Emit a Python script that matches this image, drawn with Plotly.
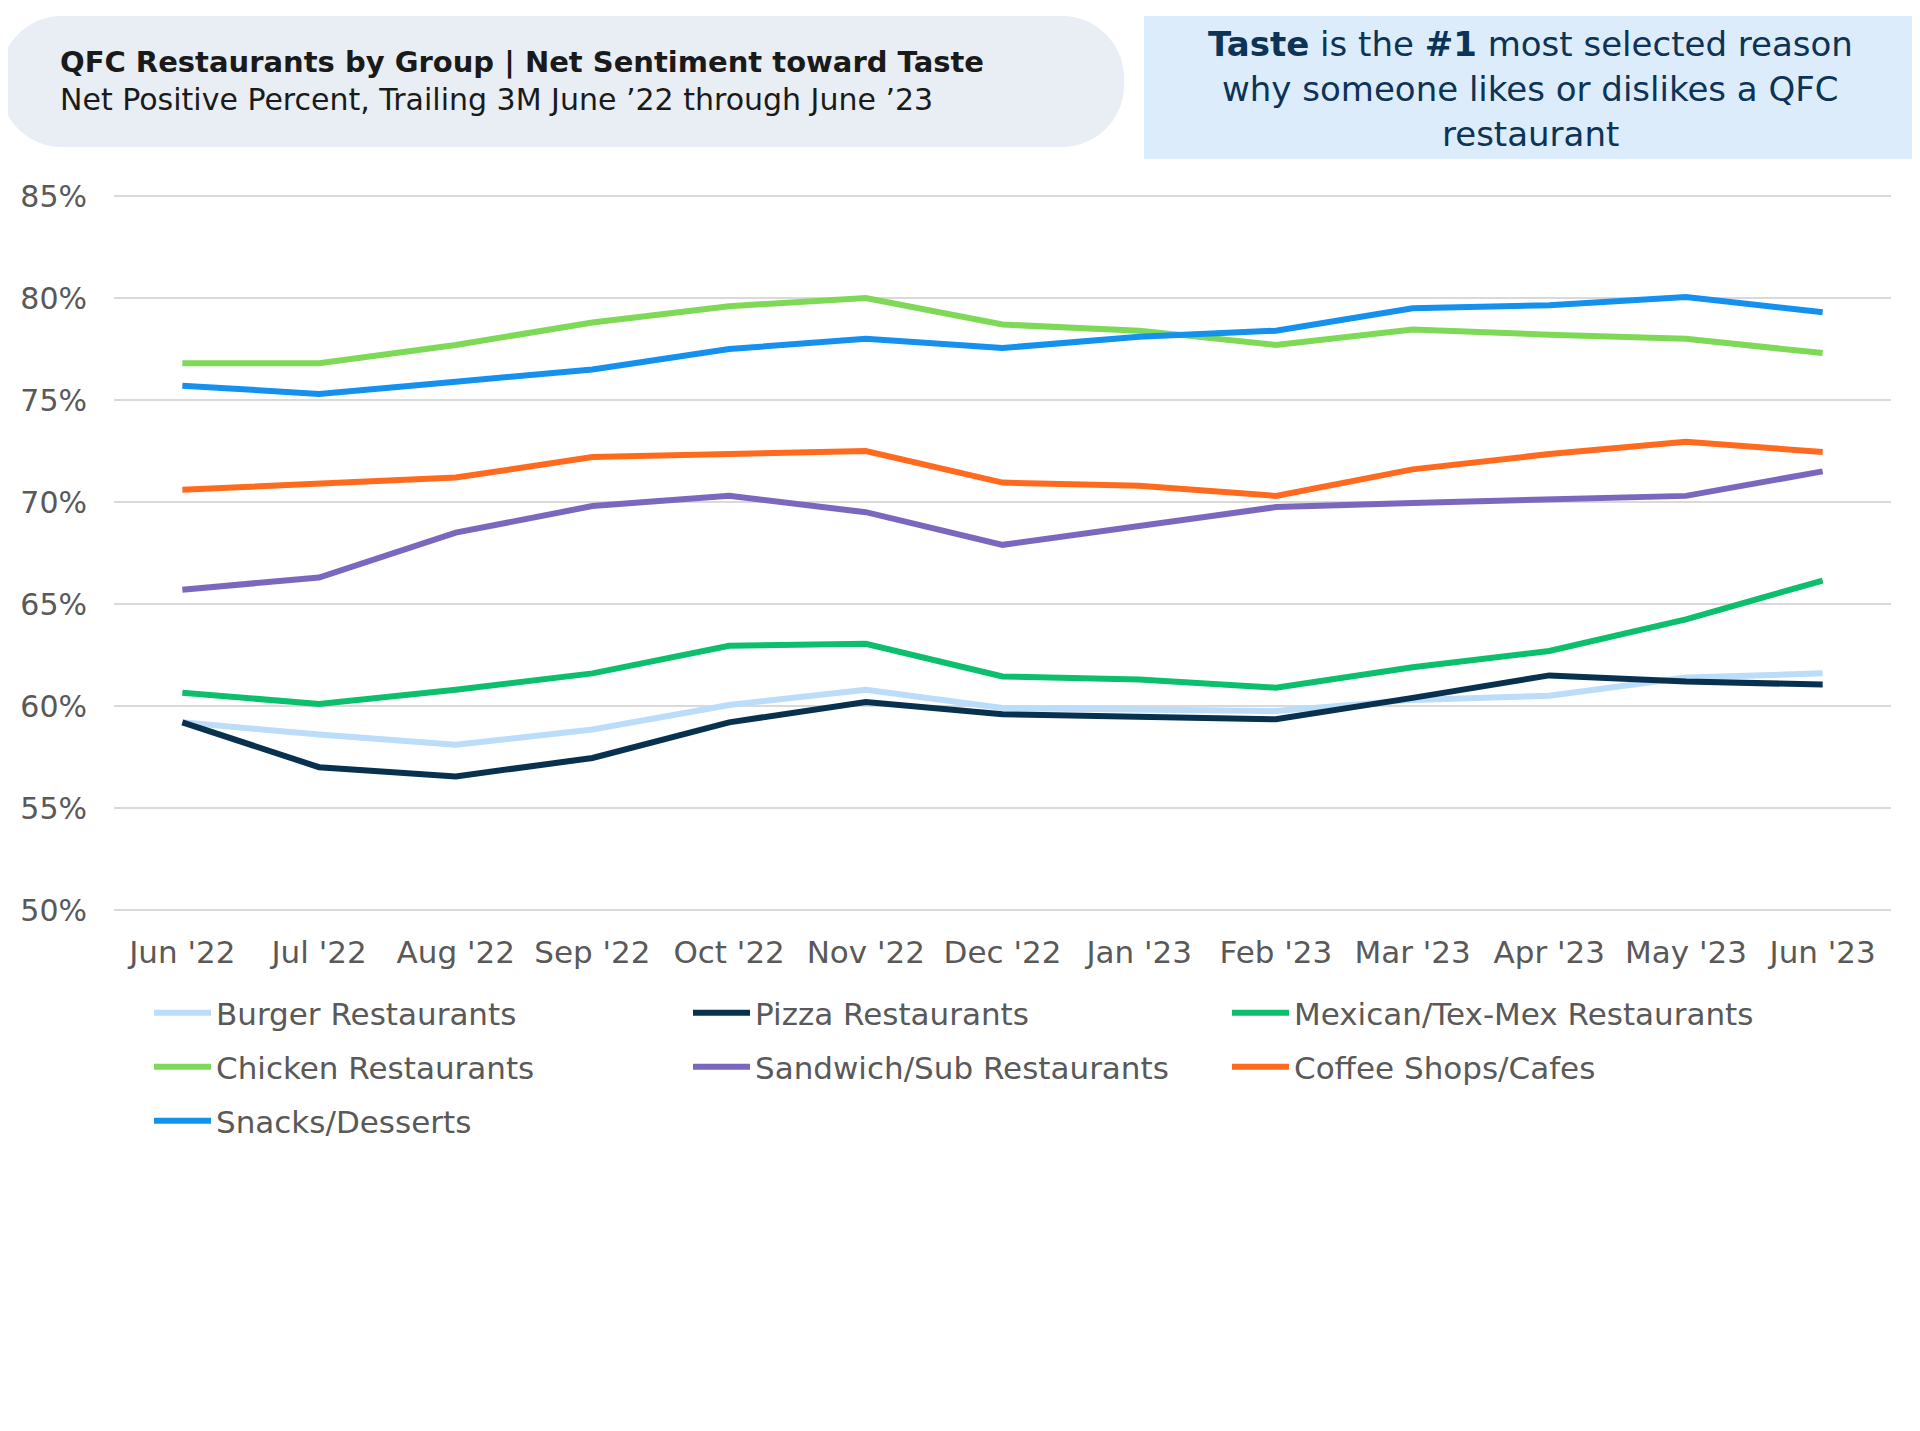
import plotly.graph_objects as go

months = ["Jun '22", "Jul '22", "Aug '22", "Sep '22", "Oct '22", "Nov '22", "Dec '22",
          "Jan '23", "Feb '23", "Mar '23", "Apr '23", "May '23", "Jun '23"]

burger = [59.2, 58.6, 58.1, 58.85, 60.05, 60.8, 59.9, 59.8, 59.75, 60.3, 60.5, 61.4, 61.6]
pizza = [59.2, 57.0, 56.55, 57.45, 59.2, 60.2, 59.6, 59.5, 59.35, 60.4, 61.5, 61.2, 61.05]
mexican = [60.65, 60.1, 60.8, 61.6, 62.95, 63.05, 61.45, 61.3, 60.9, 61.9, 62.7, 64.25, 66.15]
chicken = [76.8, 76.8, 77.7, 78.8, 79.6, 80.0, 78.7, 78.4, 77.7, 78.45, 78.2, 78.0, 77.3]
sandwich = [65.7, 66.3, 68.5, 69.8, 70.3, 69.5, 67.9, 68.8, 69.75, 69.95, 70.15, 70.3, 71.5]
coffee = [70.6, 70.9, 71.2, 72.2, 72.35, 72.5, 70.95, 70.8, 70.3, 71.6, 72.35, 72.95, 72.45]
snacks = [75.7, 75.3, 75.9, 76.5, 77.5, 78.0, 77.55, 78.1, 78.4, 79.5, 79.65, 80.05, 79.3]

series_names = ["Burger Restaurants", "Pizza Restaurants", "Mexican/Tex-Mex Restaurants",
                "Chicken Restaurants", "Sandwich/Sub Restaurants", "Coffee Shops/Cafes",
                "Snacks/Desserts"]
series_values = [burger, pizza, mexican, chicken, sandwich, coffee, snacks]
series_colors = ["#BBDDF9", "#08304F", "#0BBF6C", "#7ED957", "#7B68BE", "#FF6A1F", "#1490EF"]
series_legend = ["legend", "legend", "legend", "legend2", "legend2", "legend2", "legend3"]

y_ticks = [50, 55, 60, 65, 70, 75, 80, 85]
y_tick_text = ["50%", "55%", "60%", "65%", "70%", "75%", "80%", "85%"]

FONT = "DejaVu Sans"
# the page body has an 8px default margin, so the figure is drawn at (8, 8)
OFF = 8
W, H = 1920 - 2 * OFF, 1431 - 2 * OFF
PAD = 3  # extra pixels so the 50% / 85% gridlines are not clipped at the plot edges
ML = 114 - OFF
MT = 196 - OFF - PAD
MR = W - (1891 - OFF)
MB = H - (910 - OFF) - PAD
PW, PH = W - ML - MR, H - MT - MB
YPAD = PAD * 35.0 / 714.0


def X(px):  # reference-page pixel -> paper x
    return (px - OFF - ML) / PW


def Y(py):  # reference-page pixel -> paper y
    return (H - MB - (py - OFF)) / PH


fig = go.Figure()
for name, vals, col, lg in zip(series_names, series_values, series_colors, series_legend):
    fig.add_trace(go.Scatter(x=list(range(len(months))), y=vals, name=name, mode="lines",
                             line=dict(color=col, width=6), legend=lg))

# rounded "pill" header box
x0, y0, x1, y1, r = 0, 16, 1124, 147, 62
k = 0.5523
pts = [
    ("M", [(x0 + r, y0)]),
    ("L", [(x1 - r, y0)]),
    ("C", [(x1 - r + k * r, y0), (x1, y0 + r - k * r), (x1, y0 + r)]),
    ("L", [(x1, y1 - r)]),
    ("C", [(x1, y1 - r + k * r), (x1 - r + k * r, y1), (x1 - r, y1)]),
    ("L", [(x0 + r, y1)]),
    ("C", [(x0 + r - k * r, y1), (x0, y1 - r + k * r), (x0, y1 - r)]),
    ("L", [(x0, y0 + r)]),
    ("C", [(x0, y0 + r - k * r), (x0 + r - k * r, y0), (x0 + r, y0)]),
]
path = ""
for cmd, ps in pts:
    path += cmd + " " + " ".join(f"{X(a):.5f},{Y(b):.5f}" for a, b in ps) + " "
path += "Z"

shapes = [
    dict(type="path", xref="paper", yref="paper", path=path,
         fillcolor="#E8EEF4", line=dict(width=0), layer="below"),
    dict(type="rect", xref="paper", yref="paper", x0=X(1144), x1=X(1917), y0=Y(159), y1=Y(16),
         fillcolor="#DCECFA", line=dict(width=0), layer="below"),
]

annotations = [
    dict(text="<b>QFC Restaurants by Group | Net Sentiment toward Taste</b>", x=X(58), y=Y(62),
         xref="paper", yref="paper", xanchor="left", yanchor="middle", showarrow=False,
         font=dict(family=FONT, size=29, color="#1A1A1A")),
    dict(text="Net Positive Percent, Trailing 3M June \u201922 through June \u201923", x=X(58), y=Y(99),
         xref="paper", yref="paper", xanchor="left", yanchor="middle", showarrow=False,
         font=dict(family=FONT, size=30, color="#1A1A1A")),
]
box_lines = ["<b>Taste</b> is the <b>#1</b> most selected reason",
             "why someone likes or dislikes a QFC",
             "restaurant"]
for txt, cy in zip(box_lines, [44, 89, 134]):
    annotations.append(dict(text=txt, x=X(1530), y=Y(cy), xref="paper", yref="paper",
                            xanchor="center", yanchor="middle", showarrow=False,
                            font=dict(family=FONT, size=34, color="#0D3356")))

legend_common = dict(orientation="h", entrywidth=467, entrywidthmode="pixels", itemwidth=57,
                     xanchor="left", yanchor="middle", x=X(149),
                     font=dict(family=FONT, size=31, color="#595959"), bgcolor="rgba(0,0,0,0)")

fig.update_layout(
    width=W, height=H,
    margin=dict(l=ML, r=MR, t=MT, b=MB),
    paper_bgcolor="white", plot_bgcolor="white",
    font=dict(family=FONT, color="#595959"),
    xaxis=dict(range=[-0.5, 12.5], tickmode="array", tickvals=list(range(len(months))),
               ticktext=months, showgrid=False, zeroline=False, showline=False,
               tickfont=dict(family=FONT, size=31, color="#595959"), ticks="",
               ticklabelstandoff=21 - PAD),
    yaxis=dict(range=[50 - YPAD, 85 + YPAD], tickmode="array", tickvals=y_ticks,
               ticktext=y_tick_text,
               showgrid=True, gridcolor="#D9D9D9", gridwidth=2, zeroline=False, showline=False,
               tickfont=dict(family=FONT, size=30, color="#595959"), ticks="",
               ticklabelstandoff=26),
    legend=dict(legend_common, y=Y(1013)),
    legend2=dict(legend_common, y=Y(1067)),
    legend3=dict(legend_common, y=Y(1121)),
    shapes=shapes,
    annotations=annotations,
    showlegend=True,
)

fig.write_html("out.html")
